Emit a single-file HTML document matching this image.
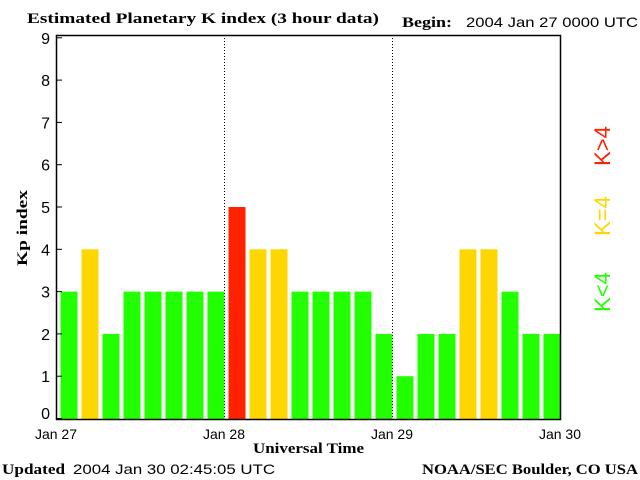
<!DOCTYPE html>
<html><head><meta charset="utf-8"><style>
body{margin:0;background:#fff;}
svg{display:block;}
</style></head><body>
<svg id="chart" width="640" height="480" xmlns="http://www.w3.org/2000/svg">
<rect width="640" height="480" fill="#fff"/>
<text x="27" y="23" textLength="352" lengthAdjust="spacingAndGlyphs" font-family="Liberation Serif, serif" font-weight="bold" font-size="15">Estimated Planetary K index (3 hour data)</text>
<text x="402" y="27" textLength="50" lengthAdjust="spacingAndGlyphs" font-family="Liberation Serif, serif" font-weight="bold" font-size="15">Begin:</text>
<text x="466" y="27" textLength="172" lengthAdjust="spacingAndGlyphs" font-family="Liberation Sans, sans-serif" font-size="14">2004 Jan 27 0000 UTC</text>
<text transform="translate(27,228) rotate(-90)" text-anchor="middle" textLength="76" lengthAdjust="spacingAndGlyphs" font-family="Liberation Serif, serif" font-weight="bold" font-size="15">Kp index</text>
<text x="253" y="453" textLength="111" lengthAdjust="spacingAndGlyphs" font-family="Liberation Serif, serif" font-weight="bold" font-size="15">Universal Time</text>
<text x="2" y="474" textLength="63" lengthAdjust="spacingAndGlyphs" font-family="Liberation Serif, serif" font-weight="bold" font-size="15">Updated</text>
<text x="73" y="474" textLength="202" lengthAdjust="spacingAndGlyphs" font-family="Liberation Sans, sans-serif" font-size="14">2004 Jan 30 02:45:05 UTC</text>
<text x="422" y="474" textLength="216" lengthAdjust="spacingAndGlyphs" font-family="Liberation Serif, serif" font-weight="bold" font-size="15">NOAA/SEC Boulder, CO USA</text>
<text transform="translate(610,292) rotate(-90)" text-anchor="middle" fill="#22ff00" font-family="Liberation Sans, sans-serif" font-size="22">K&lt;4</text>
<text transform="translate(610,216) rotate(-90)" text-anchor="middle" fill="#ffd700" font-family="Liberation Sans, sans-serif" font-size="22">K=4</text>
<text transform="translate(610,146) rotate(-90)" text-anchor="middle" fill="#ff2200" font-family="Liberation Sans, sans-serif" font-size="22">K&gt;4</text>
<g id="plot"></g>
</svg>
<script>
const kpValues = [3,4,2,3,3,3,3,3, 5,4,4,3,3,3,3,2, 1,2,2,4,4,3,2,2];
const yTicks = [0,1,2,3,4,5,6,7,8,9];
const dayLabels = ["Jan 27","Jan 28","Jan 29","Jan 30"];
const NS="http://www.w3.org/2000/svg";
const g=document.getElementById('plot');
const L=56,R=560,T=35,B=419;
const y=v=>B-0.5-42.3*v;
const xDay=d=>L+d*(R-L)/(dayLabels.length-1);
const slot=(R-L)/kpValues.length;
function mk(tag,attrs){const e=document.createElementNS(NS,tag);for(const k in attrs)e.setAttribute(k,attrs[k]);g.appendChild(e);return e;}
kpValues.forEach((v,i)=>{
  const c=v>4?'#ff2200':(v==4?'#ffd700':'#22ff00');
  const b=mk('rect',{x:L+i*slot+4.5,y:y(v),width:slot-4,height:B-y(v),fill:c});
  
  
});
for(let i=1;i<kpValues.length;i++){
  if(i%8==0)continue;
  const t=mk('line',{x1:L+i*slot+2.5,x2:L+i*slot+2.5,y1:B-6,y2:B,stroke:'#fff','stroke-width':1});
  
  
}
for(let d=1;d<dayLabels.length-1;d++){
  const l=mk('line',{x1:xDay(d)+0.5,x2:xDay(d)+0.5,y1:T,y2:B,stroke:'#000','stroke-dasharray':'1,2'});
  
  
}
const fr=mk('rect',{x:L+0.5,y:T+0.5,width:R-L,height:B-T,fill:'none',stroke:'#000','stroke-width':1.5});


yTicks.forEach(v=>{
  const t=mk('line',{x1:L,x2:L+6,y1:y(v),y2:y(v),stroke:'#000'});
  
  
  const s=mk('text',{x:L-6,y:Math.min(y(v)+6,419),'text-anchor':'end','font-family':'Liberation Sans, sans-serif','font-size':16});
  s.textContent=v;
  
  
});
dayLabels.forEach((d,i)=>{
  const s=mk('text',{x:xDay(i),y:439,'text-anchor':'middle','font-family':'Liberation Sans, sans-serif','font-size':14});
  s.textContent=d;
  
  
});
</script>
</body></html>
